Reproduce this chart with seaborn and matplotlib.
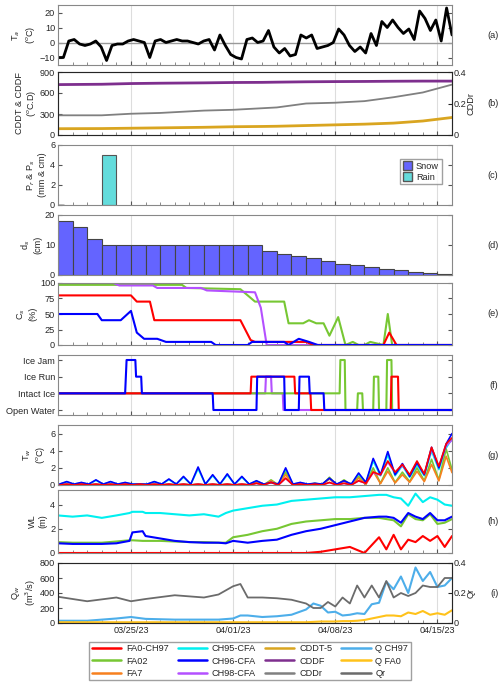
import numpy as np
import pandas as pd
import matplotlib
matplotlib.use("Agg")
import matplotlib.pyplot as plt
import seaborn as sns

sns.set_style("ticks")
plt.rcParams['font.family'] = ['Liberation Sans', 'DejaVu Sans']
FS = 6.6
plt.rcParams['font.size'] = FS

# ---------------- data (x = days since 03/20/23) ----------------
ta_vals = [-10,-10,1,2,-1,-2,-1,1,-3,-12,-2,-1,-1,1,2,1,0,-10,1,2,0,1,2,1,1,0,-1,1,2,-5,5,-2,-8,-10,-11,
           2,3,0,1,8,-3,-7,-4,-9,-8,5,3,5,-4,-3,-2,0,9,5,-2,-6,-3,-7,6,-2,14,10,15,10,6,9,2,21,16,8,15,1,23,5]
snow_depth = [18,16,12,10,10,10,10,10,10,10,10,10,10,10,8,7,6.2,5.5,4.6,3.8,3.2,2.5,2,1.6,1.1,0.7,0.4]
rain_day, rain_val = 3, 5

cdd_t = [0,3,5,7,10,12,14,15,17,19,21,23,25,27]
cddf = [720,725,735,740,745,750,752,755,760,763,765,768,770,770]
cddt5 = [90,92,97,102,110,118,122,125,135,145,155,170,200,250]
cddr = [0.125,0.125,0.135,0.14,0.155,0.16,0.17,0.175,0.2,0.205,0.215,0.24,0.27,0.32]

cs_t_red = [0,5,5.4,6.3,6.6,12.5,13.2,13.5,17,17.5,22.3,22.7,23.2,27]
cs_red   = [80,80,70,70,40,40,8,5,5,0,0,20,0,0]
cs_t_pur = [0,3.8,4.2,6.5,6.8,9.8,10.2,13.5,13.9,14.3,27]
cs_pur   = [100,100,96,96,92,92,88,85,60,0,0]
cs_t_grn = [0,8.5,8.8,12.5,13.5,15.5,15.8,16.8,17.2,17.7,18.2,18.6,19.2,19.7,20.2,20.6,21,21.4,22.3,22.6,22.9,27]
cs_grn   = [97,97,92,90,70,70,35,35,40,35,35,15,45,0,5,0,0,5,0,50,0,0]
cs_t_blu = [0,2.7,3,4.3,5,5.4,5.9,6.8,7.4,10.5,10.8,13,13.3,15.5,15.8,16.5,17.2,17.8,27]
cs_blu   = [50,50,40,40,55,20,10,10,5,5,0,0,5,5,0,10,5,0,0]

ice_t_blu = [0,4.6,4.7,5.3,5.35,5.7,5.75,10.6,10.65,13.6,13.65,15.5,15.55,16.5,16.55,17.2,17.25,18.2,18.25,27]
ice_blu   = [1,1,3,3,2,2,1,1,0,0,2,2,0,0,2,2,1,1,0,0]
ice_t_red = [0,13.2,13.25,16.2,16.25,17.3,17.35,22.8,22.85,23.3,23.35,27]
ice_red   = [1,1,2,2,1,1,0,0,2,2,0,0]
ice_t_pur = [0,14.2,14.25,14.6,14.65,15.4,15.45,27]
ice_pur   = [1,1,2,2,1,1,0,0]
ice_t_grn = [0,19.3,19.35,19.65,19.7,20.5,20.55,20.85,20.9,21.6,21.65,21.95,22.0,22.5,22.55,22.85,22.9,27]
ice_grn   = [1,1,3,3,0,0,1,1,0,0,2,2,0,0,3,3,0,0]

tw_blu_pk = [0.4,0.3,0.6,0.4,0.3,0.1,0.4,0.7,1.0,2.1,1.2,1.3,1.0,0.5,0.3,2.0,0.3,0.2,0.8,0.5,1.4,3.1,3.9,2.5,2.6,4.4,4.8]
tw_red_pk = [0.1,0.1,0.1,0.1,0.1,0.1,0.1,0.1,0.1,0.1,0.1,0.1,0.1,0.2,0.3,0.8,0.1,0.1,0.3,0.2,0.5,1.5,2.8,2.4,2.8,4.4,4.8]
tw_grn_pk = [0.1,0.1,0.1,0.1,0.1,0.1,0.1,0.1,0.1,0.1,0.1,0.1,0.1,0.3,0.6,1.5,0.2,0.2,0.9,0.6,1.0,2.0,2.0,1.5,2.0,3.0,4.2]
tw_blu_tr = [0.1]*20 + [0.1,0.3,1.2,1.2,1.0,1.2,2.0]
tw_red_tr = [0.0]*20 + [0.0,0.2,1.2,1.5,1.2,1.3,2.2]
tw_grn_tr = [0.0]*20 + [0.0,0.1,0.2,0.3,0.4,0.5,0.6]
tw_end = [6.0, 5.5, 1.8]

wl_t = [0,1,2,3,4,4.9,5.1,5.8,6,7,8,9,10,11,11.5,12,13,14,15,16,17,18,19,20,21,22,22.5,23,23.5,24,24.5,25,25.5,26,26.5,27]
wl_cyan = [3.1,3.0,3.1,2.9,3.1,3.3,3.4,3.4,3.3,3.3,3.2,3.1,3.2,3.0,3.3,3.5,3.7,3.9,4.0,4.3,4.4,4.5,4.6,4.6,4.7,4.8,4.8,4.6,4.5,3.9,4.9,4.2,4.6,4.4,4.0,3.9]
wl_blu  = [0.8,0.75,0.75,0.75,0.8,1.0,1.7,1.8,1.4,1.2,1.0,0.9,0.85,0.85,0.8,1.0,0.85,1.0,1.1,1.5,1.8,2.0,2.3,2.6,2.9,3.0,3.0,2.9,2.5,3.3,3.0,2.8,3.3,2.7,2.7,3.0]
wl_grn  = [0.9,0.85,0.85,0.85,0.95,1.05,1.05,1.0,1.0,1.0,0.95,0.9,0.9,0.85,0.85,1.3,1.5,1.8,2.0,2.4,2.6,2.7,2.8,2.8,2.9,2.9,2.8,2.7,2.2,3.2,2.8,2.7,3.2,2.4,2.5,2.8]
wl_red  = [0]*20 + [0,0.1,0.3,0.5,0.0,1.3,0.3,1.5,0.3,1.1,0.9,1.4,1.0,1.4,0.5,1.4]

q_t = [0,2,4,5,6,8,10,11,12,12.5,13,14,15,16,17,17.5,18,18.5,19,19.5,20,20.5,21,21.5,22,22.5,23,23.5,24,24.5,25,25.5,26,26.5,27]
q_ch97 = [30,30,60,80,55,45,45,45,60,100,100,80,90,110,180,260,230,140,150,100,110,130,120,250,270,550,450,620,400,740,560,680,480,500,600]
q_fa0 = [10,10,10,10,10,10,10,10,10,10,10,10,10,10,10,15,20,20,20,25,25,30,40,60,80,100,100,90,140,120,160,110,130,110,170]
qr = [0.175,0.145,0.17,0.145,0.16,0.185,0.17,0.19,0.245,0.26,0.17,0.17,0.165,0.155,0.13,0.1,0.1,0.14,0.11,0.17,0.13,0.25,0.17,0.25,0.17,0.28,0.17,0.2,0.18,0.2,0.25,0.24,0.24,0.3,0.3]

tick_pos = [5, 12, 19, 26]
tick_lab = ['03/25/23', '04/01/23', '04/08/23', '04/15/23']

C = dict(red='#FF0000', grn='#77C733', org='#F7801E', cyan='#00F0F0', blu='#0000FF', pur='#B450FF',
         cddt='#D9A520', cddf='#7E2F8E', cddr='#808080', qch='#4DAEEA', qfa='#FFC21A', qr='#6B6B6B')

# ---------------- figure ----------------
fig = plt.figure(figsize=(5, 6.88), dpi=100)
H = 688.0
boxes = {'a': (5, 65), 'b': (72, 135), 'c': (145, 205), 'd': (215, 275), 'e': (283, 345),
         'f': (355, 415), 'g': (425, 485), 'h': (490, 553), 'i': (563, 623)}
axes = {}
for k, (t, b) in boxes.items():
    ax = fig.add_axes([58/500, 1 - b/H, 394/500, (b - t)/H])
    ax.set_xlim(0, 27)
    ax.set_xticks(tick_pos)
    ax.set_xticks(np.arange(0, 28, 1), minor=True)
    ax.set_xticklabels(tick_lab if k == 'i' else [])
    for x in tick_pos:
        ax.axvline(x, color='#DDDDDD', lw=0.8, zorder=0)
    for s in ax.spines.values():
        s.set_color('#888888')
    ax.tick_params(direction='in', length=3, color='#555555', labelsize=FS, right=True, top=False, pad=2)
    ax.tick_params(which='minor', direction='in', length=2, color='#777777', right=False)
    fig.text(0.997, 1 - (t + b)/2/H, f'({k})', ha='right', va='center', fontsize=FS)
    axes[k] = ax

def line(ax, x, y, c, lw=1.5, **kw):
    sns.lineplot(x=np.asarray(x, float), y=np.asarray(y, float), ax=ax, color=c, lw=lw,
                 estimator=None, sort=False, **kw)

# (a)
ax = axes['a']
ta_t = np.linspace(0, 27, len(ta_vals))
ax.axhline(0, color='#999999', lw=1)
line(ax, ta_t, ta_vals, 'black', lw=2)
ax.set_ylim(-15, 25); ax.set_yticks([-10, 0, 10, 20])
ax.set_ylabel('T$_a$\n($^o$C)', labelpad=2)

# (b)
ax = axes['b']
line(ax, cdd_t, cddf, C['cddf'], lw=2)
line(ax, cdd_t, cddt5, C['cddt'], lw=2)
ax.set_ylim(0, 900); ax.set_yticks([0, 300, 600, 900])
ax.set_ylabel('CDDT & CDDF\n($^o$C.D)', labelpad=1)
ax2 = ax.twinx()
line(ax2, cdd_t, cddr, C['cddr'], lw=1.3)
ax2.set_ylim(0, 0.4); ax2.set_yticks([0, 0.2, 0.4]); ax2.set_yticklabels(['0', '0.2', '0.4'])
ax2.tick_params(direction='in', length=3, labelsize=FS, pad=1)
ax2.set_ylabel('CDDr', labelpad=0)
ax.tick_params(right=False)

# (c)
ax = axes['c']
ax.bar([rain_day], [rain_val], width=1, align='edge', color='#64DCDC', edgecolor='#555555', lw=0.8)
snow_h = ax.bar([0], [0], color='#6464FF', edgecolor='#555555', label='Snow')
rain_h = ax.bar([0], [0], color='#64DCDC', edgecolor='#555555', label='Rain')
ax.set_ylim(0, 6); ax.set_yticks([0, 2, 4, 6])
ax.set_ylabel('P$_r$ & P$_s$\n(mm & cm)', labelpad=2)
ax.legend(handles=[snow_h, rain_h], loc='upper right', fontsize=FS, fancybox=False,
          edgecolor='#888888', handlelength=1.0, handleheight=1.0, bbox_to_anchor=(0.985, 0.85),
          borderpad=0.3, labelspacing=0.2, handletextpad=0.4)

# (d)
ax = axes['d']
ax.bar(np.arange(len(snow_depth)), snow_depth, width=1, align='edge', color='#6464FF',
       edgecolor='#444444', lw=0.8)
ax.set_ylim(0, 20); ax.set_yticks([0, 10, 20])
ax.set_ylabel('d$_s$\n(cm)', labelpad=2)

# (e)
ax = axes['e']
line(ax, cs_t_grn, cs_grn, C['grn'])
line(ax, cs_t_pur, cs_pur, C['pur'])
line(ax, cs_t_red, cs_red, C['red'])
line(ax, cs_t_blu, cs_blu, C['blu'])
ax.set_ylim(0, 100); ax.set_yticks([0, 25, 50, 75, 100])
ax.set_ylabel('C$_s$\n(%)', labelpad=2)

# (f)
ax = axes['f']
line(ax, ice_t_pur, ice_pur, C['pur'])
line(ax, ice_t_grn, ice_grn, C['grn'])
line(ax, ice_t_red, ice_red, C['red'])
line(ax, ice_t_blu, ice_blu, C['blu'])
ax.set_ylim(-0.3, 3.3); ax.set_yticks([0, 1, 2, 3])
ax.set_yticklabels(['Open Water', 'Intact Ice', 'Ice Run', 'Ice Jam'])

# (g)
ax = axes['g']
def pk(peaks, troughs, end):
    t, v = [], []
    for d in range(27):
        t += [d + 0.1, d + 0.6]; v += [troughs[d], peaks[d]]
    t.append(27); v.append(end)
    return t, v
tb, vb = pk(tw_blu_pk, tw_blu_tr, tw_end[0])
tr, vr = pk(tw_red_pk, tw_red_tr, tw_end[1])
tg, vg = pk(tw_grn_pk, tw_grn_tr, tw_end[2])
line(ax, tb, [v * 0.9 for v in vb], C['cyan'], lw=1.2)
line(ax, tg, vg, C['grn'], lw=1.2)
line(ax, tg, [v * 0.8 for v in vg], C['org'], lw=1.2)
line(ax, tr, [v * 0.95 for v in vr], C['pur'], lw=1.2)
line(ax, tb, vb, C['blu'], lw=1.2)
line(ax, tr, vr, C['red'], lw=1.2)
ax.set_ylim(0, 7); ax.set_yticks([0, 2, 4, 6])
ax.set_ylabel('T$_w$\n($^o$C)', labelpad=2)

# (h)
ax = axes['h']
line(ax, wl_t, wl_cyan, C['cyan'])
line(ax, wl_t, wl_grn, C['grn'])
line(ax, wl_t, wl_blu, C['blu'])
line(ax, wl_t, wl_red, C['red'])
ax.set_ylim(0, 5.2); ax.set_yticks([0, 2, 4])
ax.set_ylabel('WL\n(m)', labelpad=2)

# (i)
ax = axes['i']
line(ax, q_t, q_ch97, C['qch'])
line(ax, q_t, q_fa0, C['qfa'])
ax.set_ylim(0, 800); ax.set_yticks([0, 200, 400, 600, 800])
ax.set_ylabel('Q$_w$\n(m$^3$/s)', labelpad=1)
ax3 = ax.twinx()
line(ax3, q_t, qr, C['qr'], lw=1.3)
ax3.set_ylim(0, 0.4); ax3.set_yticks([0, 0.2, 0.4]); ax3.set_yticklabels(['0', '0.2', '0.4'])
ax3.tick_params(direction='in', length=3, labelsize=FS, pad=1)
ax3.set_ylabel('Qr', labelpad=0)
ax.tick_params(right=False)

# legend
from matplotlib.lines import Line2D
names = ['FA0-CH97', 'FA02', 'FA7', 'CH95-CFA', 'CH96-CFA', 'CH98-CFA',
         'CDDT-5', 'CDDF', 'CDDr', 'Q CH97', 'Q FA0', 'Qr']
cols = [C['red'], C['grn'], C['org'], C['cyan'], C['blu'], C['pur'],
        C['cddt'], C['cddf'], C['cddr'], C['qch'], C['qfa'], C['qr']]
hs = [Line2D([], [], color=c, lw=1.8) for c in cols]
fig.legend(hs, names, ncol=4, loc='center', bbox_to_anchor=(0.5, 1 - 661/H), fontsize=FS,
           fancybox=False, edgecolor='#888888', handlelength=3.2, columnspacing=1.0,
           labelspacing=0.35, handletextpad=0.5, borderpad=0.3)

fig.savefig('out.png', dpi=100)
